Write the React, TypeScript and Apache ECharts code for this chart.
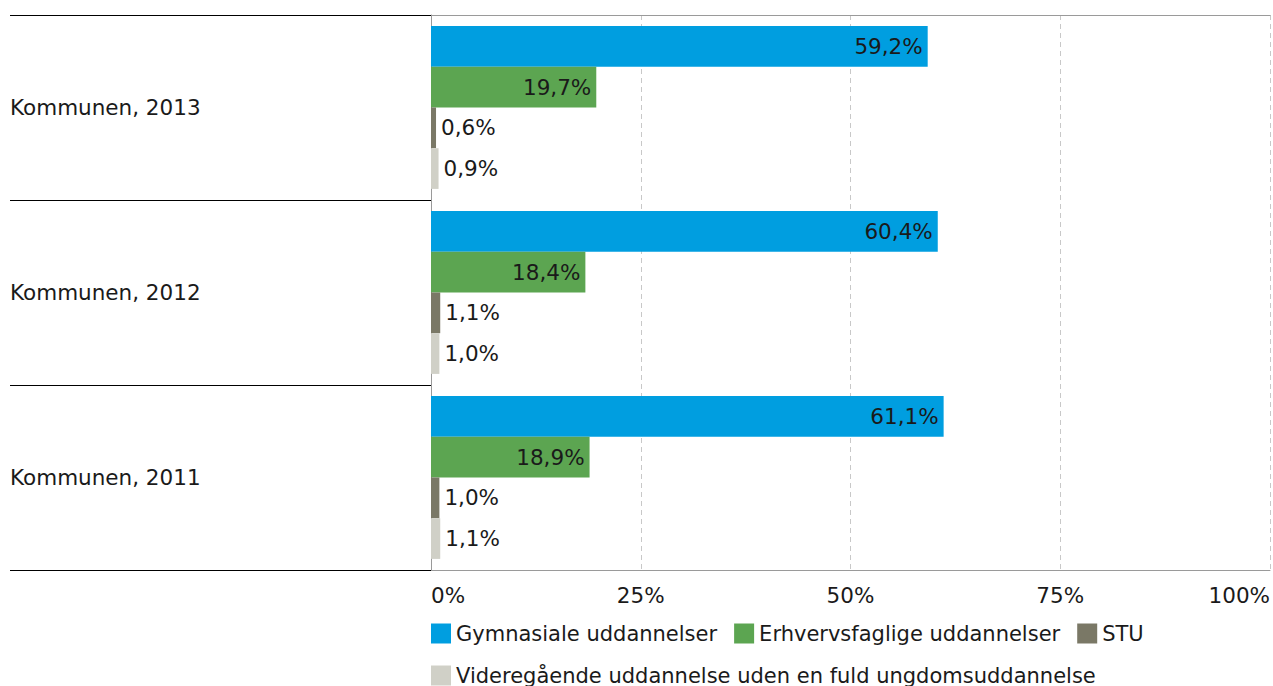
import React, { useEffect, useRef } from "react";
import * as echarts from "echarts";

const categories = ["Kommunen, 2013", "Kommunen, 2012", "Kommunen, 2011"];
const seriesNames = [
  "Gymnasiale uddannelser",
  "Erhvervsfaglige uddannelser",
  "STU",
  "Videregående uddannelse uden en fuld ungdomsuddannelse",
];
const gymnasiale = [59.2, 60.4, 61.1];
const erhverv = [19.7, 18.4, 18.9];
const stu = [0.6, 1.1, 1.0];
const videre = [0.9, 1.0, 1.1];
const xTicks = [0, 25, 50, 75, 100];

const colors = ["#009EE0", "#5CA551", "#7A7866", "#D0D0C7"];
const FONT = "DejaVu Sans";
const TEXT = "#1a1a1a";

const fmt = (v: number) => v.toFixed(1).replace(".", ",") + "%";

export default function App() {
  const ref = useRef<HTMLDivElement>(null);
  useEffect(() => {
    if (!ref.current) return;
    const chart = echarts.init(ref.current, undefined, { renderer: "svg" });
    const values = [gymnasiale, erhverv, stu, videre];
    const series = values.map((data, i) => ({
      name: seriesNames[i],
      type: "bar",
      data,
      barGap: "0%",
      barCategoryGap: "12%",
      itemStyle: { color: colors[i] },
      label: {
        show: true,
        position: i < 2 ? "insideRight" : "right",
        distance: 5,
        color: TEXT,
        fontSize: 21.5,
        fontFamily: FONT,
        formatter: (p: any) => fmt(p.value),
      },
    }));
    chart.setOption({
      animation: false,
      textStyle: { fontFamily: FONT },
      grid: { left: 431, right: 0, top: 15, bottom: 116, containLabel: false },
      xAxis: [
        {
          type: "value",
          min: xTicks[0],
          max: xTicks[xTicks.length - 1],
          interval: 25,
          position: "bottom",
          axisLine: { show: true, lineStyle: { color: "#9a9a9a", width: 1 } },
          axisTick: { show: false },
          axisLabel: {
            fontSize: 21.5,
            fontFamily: FONT,
            color: TEXT,
            margin: 14,
            alignMinLabel: "left",
            alignMaxLabel: "right",
            formatter: (v: number) => v + "%",
          },
          splitLine: {
            show: true,
            lineStyle: { color: "#c8c8c8", type: [5, 4], width: 1 },
          },
        },
        {
          type: "value",
          min: 0,
          max: 100,
          position: "top",
          axisLine: { show: true, onZero: false, lineStyle: { color: "#9a9a9a", width: 1 } },
          axisTick: { show: false },
          axisLabel: { show: false },
          splitLine: { show: false },
        },
      ],
      yAxis: {
        type: "category",
        data: categories,
        inverse: true,
        axisLine: { show: true, lineStyle: { color: "#9a9a9a", width: 1 } },
        axisTick: { show: true, length: 421, lineStyle: { color: "#000", width: 1 } },
        axisLabel: {
          margin: 421,
          align: "left",
          fontSize: 21.5,
          fontFamily: FONT,
          color: TEXT,
        },
        splitLine: { show: false },
      },
      legend: [
        {
          data: seriesNames.slice(0, 3),
          left: 431,
          top: 623,
          padding: 0,
          icon: "rect",
          itemWidth: 20,
          itemHeight: 20,
          itemGap: 17,
          textStyle: { fontSize: 21, fontFamily: FONT, color: TEXT },
        },
        {
          data: seriesNames.slice(3),
          left: 431,
          top: 665,
          padding: 0,
          icon: "rect",
          itemWidth: 20,
          itemHeight: 20,
          itemGap: 17,
          textStyle: { fontSize: 21, fontFamily: FONT, color: TEXT },
        },
      ],
      series,
    });
    return () => chart.dispose();
  }, []);
  return (
    <div
      ref={ref}
      style={{ position: "fixed", left: 0, top: 0, width: 1273, height: 686, background: "#fff" }}
    />
  );
}
